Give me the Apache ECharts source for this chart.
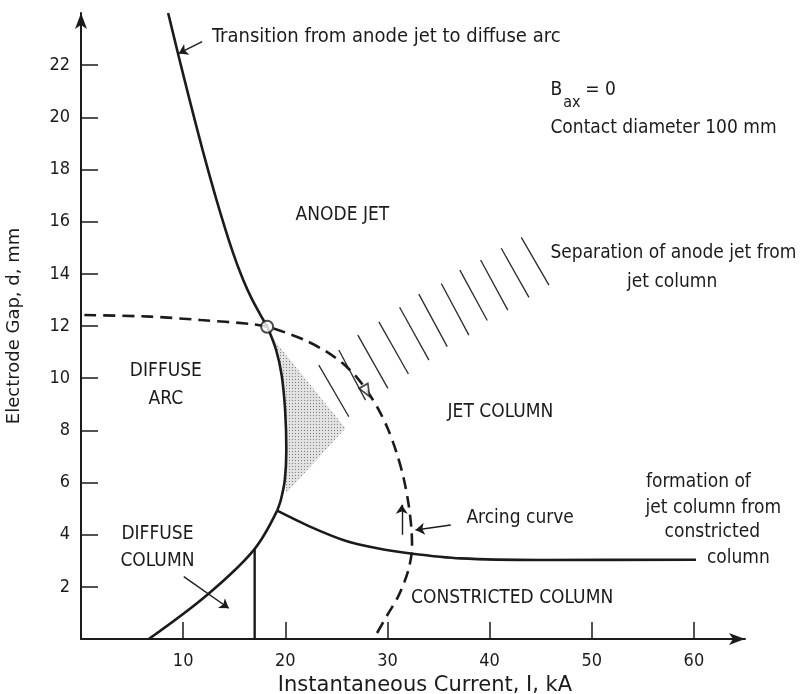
<!DOCTYPE html>
<html>
<head>
<meta charset="utf-8">
<script src="https://cdn.jsdelivr.net/npm/echarts/dist/echarts.min.js"></script>
<style>
  html, body { margin: 0; padding: 0; background: #fff; }
  #chart { width: 802px; height: 694px; }
</style>
</head>
<body>
<div id="chart"></div>
<script>
// Axis ticks (current in kA, gap in mm)
const xTicks = [10, 20, 30, 40, 50, 60];
const yTicks = [2, 4, 6, 8, 10, 12, 14, 16, 18, 20, 22];

// Boundary: anode jet / diffuse arc, down to the junction point
const anodeJetBoundary = [
  [8.53, 24.0], [9.65, 22.20], [10.63, 20.67], [11.90, 18.75], [13.27, 16.83],
  [14.79, 14.91], [15.87, 13.77], [16.77, 13.0], [17.85, 12.23], [18.25, 11.96],
  [19.10, 11.08], [19.64, 10.12], [19.98, 8.78], [20.10, 7.25], [19.95, 6.10],
  [19.56, 5.33], [19.2, 4.92]
];
// Boundary: diffuse column, from the junction down to the current axis
const diffuseColumnBoundary = [
  [19.2, 4.92], [16.91, 3.41], [12.34, 1.69], [6.63, 0]
];
// Vertical limit of the diffuse column
const diffuseColumnLimit = [[17.0, 0], [17.0, 3.45]];
// Formation of jet column from constricted column
const constrictedBoundary = [
  [19.2, 4.92], [22.47, 4.30], [25.73, 3.79], [29.0, 3.48], [32.26, 3.28],
  [37.16, 3.09], [45.0, 3.03], [60.2, 3.04]
];
// Arcing curve (dashed)
const arcingCurve = [
  [0.33, 12.42], [6.79, 12.36], [11.69, 12.23], [16.58, 12.08], [18.22, 11.97],
  [20.01, 11.75], [21.97, 11.45], [23.93, 11.04], [25.59, 10.58], [26.96, 10.05],
  [28.14, 9.43], [29.21, 8.74], [30.09, 8.01], [30.87, 7.17], [31.56, 6.21],
  [32.05, 5.21], [32.34, 4.26], [32.41, 3.53], [32.15, 2.80], [31.66, 2.19],
  [30.97, 1.57], [29.99, 0.92], [28.65, 0]
];
// Stippled transition region
const shadedRegion = [
  [18.4, 11.7], [25.9, 8.08], [20.1, 5.6], [19.95, 6.10], [20.10, 7.25],
  [19.98, 8.78], [19.64, 10.12], [19.10, 11.08]
];
// Hatch strokes: separation of anode jet from jet column
const hatchStrokes = [
  [[23.28, 10.50], [26.22, 8.52]],
  [[25.24, 11.08], [27.85, 9.16]],
  [[27.10, 11.65], [30.04, 9.61]],
  [[29.16, 12.16], [32.05, 10.16]],
  [[31.19, 12.72], [34.06, 10.69]],
  [[33.07, 13.22], [35.85, 11.21]],
  [[35.27, 13.63], [37.97, 11.65]],
  [[37.09, 14.14], [39.77, 12.21]],
  [[39.12, 14.53], [41.78, 12.61]],
  [[41.14, 14.98], [43.85, 13.10]],
  [[43.10, 15.40], [45.81, 13.57]]
];
// Pointer arrows (tail -> head)
const pointerArrows = [
  [[11.86, 22.9], [9.57, 22.45]],
  [[10.06, 2.39], [14.47, 1.18]],
  [[36.2, 4.37], [32.75, 4.18]],
  [[31.4, 4.0], [31.4, 5.15]]
];
// Triple point where the boundaries meet the arcing curve
const triplePoint = [[18.22, 11.97]];
// Direction marker on the arcing curve
const directionMarker = [[27.95, 9.5]];

// Annotation texts anchored in data units
const annotations = [
  { text: 'ANODE JET', at: [25.59, 16.26], align: 'center' },
  { text: 'DIFFUSE\nARC', at: [8.31, 9.74], align: 'center', lh: 28 },
  { text: 'JET COLUMN', at: [41.06, 8.70], align: 'center' },
  { text: 'DIFFUSE\nCOLUMN', at: [7.48, 3.49], align: 'center', lh: 27 },
  { text: 'CONSTRICTED COLUMN', at: [42.2, 1.56], align: 'center' },
  { text: 'Arcing curve', at: [37.73, 4.63], align: 'left' },
  { text: 'formation of', at: [60.44, 6.03], align: 'center' },
  { text: 'jet column from', at: [61.9, 5.01], align: 'center' },
  { text: 'constricted', at: [61.8, 4.11], align: 'center' },
  { text: 'column', at: [64.35, 3.09], align: 'center' },
  { text: 'Separation of anode jet from', at: [57.99, 14.79], align: 'center' },
  { text: 'jet column', at: [57.87, 13.70], align: 'center' },
  { text: 'B', at: [45.95, 21.05], align: 'left' },
  { text: 'ax', at: [47.2, 20.55], align: 'left', size: 16 },
  { text: '= 0', at: [49.37, 21.05], align: 'left' },
  { text: 'Contact diameter 100 mm', at: [45.95, 19.58], align: 'left' },
  { text: 'Transition from anode jet to diffuse arc', at: [12.83, 23.08], align: 'left', size: 20 }
];

const INK = '#1b1b1b';
const NARROW = '"DejaVu Sans Condensed", "DejaVu Sans", sans-serif';
const WIDE = '"DejaVu Sans", sans-serif';

// Stipple pattern for the shaded region
const dotCanvas = document.createElement('canvas');
dotCanvas.width = 3; dotCanvas.height = 3;
(function () {
  const c = dotCanvas.getContext('2d');
  c.fillStyle = '#e2e2e2';
  c.fillRect(0, 0, 3, 3);
  c.fillStyle = '#808080';
  c.fillRect(1, 1, 1, 1);
})();

const chart = echarts.init(document.getElementById('chart'), null, { renderer: 'canvas' });

function curve(data, extra) {
  return Object.assign({
    type: 'line',
    data: data,
    smooth: 0.35,
    showSymbol: false,
    symbol: 'none',
    lineStyle: { color: INK, width: 2.6 },
    z: 5,
    silent: true
  }, extra || {});
}

const axisCommon = {
  type: 'value',
  splitLine: { show: false },
  axisLine: {
    show: true, onZero: false,
    symbol: ['none', 'arrow'], symbolSize: [9, 16],
    lineStyle: { color: INK, width: 2 }
  },
  axisTick: { show: true, inside: true, length: 17, lineStyle: { color: INK, width: 1.5 } }
};

chart.setOption({
  animation: false,
  backgroundColor: '#ffffff',
  grid: { left: 81, right: 57, top: 13, bottom: 55, containLabel: false, outerBoundsMode: 'none' },
  xAxis: Object.assign({}, axisCommon, {
    min: 0, max: 65, interval: 5,
    name: 'Instantaneous Current, I, kA',
    nameLocation: 'middle', nameGap: 36,
    nameTextStyle: { fontFamily: WIDE, fontSize: 21, color: INK, padding: [0, 0, 0, 24] },
    axisTick: Object.assign({}, axisCommon.axisTick, { customValues: xTicks }),
    axisLabel: { customValues: xTicks, margin: 13, fontFamily: NARROW, fontSize: 18, color: INK }
  }),
  yAxis: Object.assign({}, axisCommon, {
    min: 0, max: 24, interval: 2,
    name: 'Electrode Gap, d, mm',
    nameLocation: 'middle', nameGap: 58, nameRotate: 90,
    nameTextStyle: { fontFamily: WIDE, fontSize: 18, color: INK },
    axisTick: Object.assign({}, axisCommon.axisTick, { customValues: yTicks }),
    axisLabel: { customValues: yTicks, margin: 11, fontFamily: NARROW, fontSize: 18, color: INK }
  }),
  series: [
    {
      type: 'custom',
      renderItem: function (params, api) {
        return {
          type: 'polygon',
          shape: { points: shadedRegion.map(function (p) { return api.coord(p); }), smooth: 0 },
          style: { fill: { image: dotCanvas, repeat: 'repeat' }, stroke: null }
        };
      },
      data: [0],
      z: 2,
      silent: true
    },
    {
      type: 'lines',
      coordinateSystem: 'cartesian2d',
      data: hatchStrokes.map(function (s) { return { coords: s }; }),
      lineStyle: { color: '#2a2a2a', width: 1.3, opacity: 1 },
      symbol: 'none',
      z: 3,
      silent: true
    },
    curve(anodeJetBoundary, { smooth: 0.3 }),
    curve(diffuseColumnBoundary, { smooth: 0.35 }),
    curve(diffuseColumnLimit, { smooth: false, lineStyle: { color: INK, width: 2.4 } }),
    curve(constrictedBoundary, { smooth: 0.3 }),
    curve(arcingCurve, { smooth: 0.3, lineStyle: { color: INK, width: 2.6, type: [12, 7] } }),
    {
      type: 'lines',
      coordinateSystem: 'cartesian2d',
      data: pointerArrows.map(function (s) { return { coords: s }; }),
      lineStyle: { color: INK, width: 1.4, opacity: 1 },
      symbol: ['none', 'arrow'],
      symbolSize: 9,
      z: 6,
      silent: true
    },
    {
      type: 'scatter',
      data: triplePoint,
      symbol: 'circle',
      symbolSize: 12,
      itemStyle: { color: '#ffffff', borderColor: INK, borderWidth: 2 },
      z: 8,
      silent: true
    },
    {
      type: 'scatter',
      data: directionMarker,
      symbol: 'triangle',
      symbolSize: [10, 12],
      symbolRotate: -150,
      itemStyle: { color: '#ffffff', borderColor: INK, borderWidth: 1.8 },
      z: 8,
      silent: true
    }
  ]
});

// Place the annotations through the grid's coordinate conversion
const graphics = annotations.map(function (a) {
  const p = chart.convertToPixel({ gridIndex: 0 }, a.at);
  return {
    type: 'text',
    x: p[0], y: p[1],
    silent: true,
    z: 10,
    style: {
      text: a.text,
      fill: INK,
      font: (a.size || 19) + 'px ' + NARROW,
      align: a.align,
      verticalAlign: 'middle',
      lineHeight: a.lh || 24
    }
  };
});
chart.setOption({ graphic: graphics });
</script>
</body>
</html>
